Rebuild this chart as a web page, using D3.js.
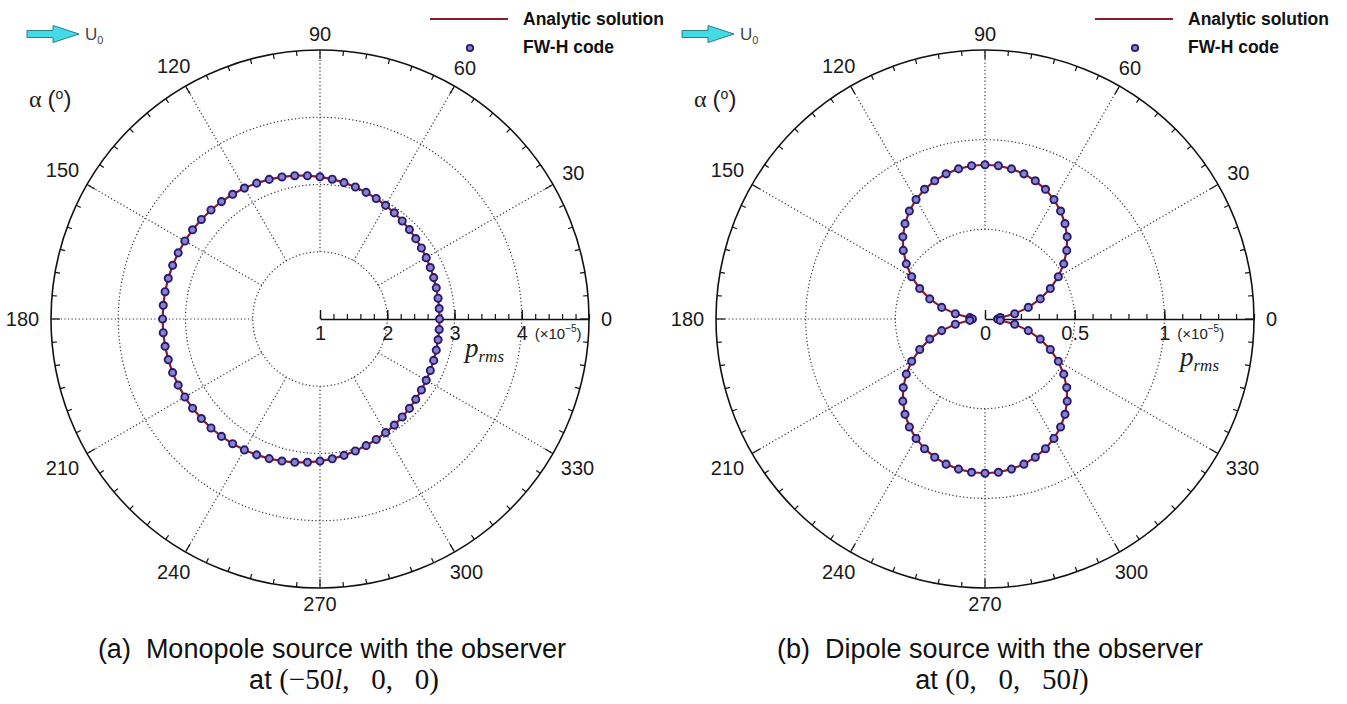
<!DOCTYPE html>
<html>
<head>
<meta charset="utf-8">
<script src="https://cdn.jsdelivr.net/npm/d3@7"></script>
<style>
  body { margin: 0; background: #fff; }
  svg { display: block; }
  text { white-space: pre; }
</style>
</head>
<body>
<svg id="fig" width="1347" height="704"></svg>
<script>
// Directivity of the radiated pressure, sampled every 5 degrees of observer angle alpha
const sampleAngles = d3.range(0, 360, 5);
const angleLabels = [0, 30, 60, 90, 120, 150, 180, 210, 240, 270, 300, 330];

// Monopole: p_rms (x 1e-5), alpha = 0, 5, ..., 355
const monopoleAnalytic = [
  2.778, 2.779, 2.783, 2.790, 2.799, 2.810, 2.824, 2.841, 2.859, 2.880, 2.902, 2.926,
  2.951, 2.977, 3.004, 3.032, 3.059, 3.087, 3.113, 3.139, 3.164, 3.187, 3.209, 3.229,
  3.248, 3.264, 3.279, 3.292, 3.303, 3.313, 3.320, 3.327, 3.332, 3.336, 3.339, 3.340,
  3.341, 3.340, 3.339, 3.336, 3.332, 3.327, 3.320, 3.313, 3.303, 3.292, 3.279, 3.264,
  3.248, 3.229, 3.209, 3.187, 3.164, 3.139, 3.113, 3.087, 3.059, 3.032, 3.004, 2.977,
  2.951, 2.926, 2.902, 2.880, 2.859, 2.841, 2.824, 2.810, 2.799, 2.790, 2.783, 2.779
];
const monopoleFWH = monopoleAnalytic;

// Dipole: p_rms (x 1e-5), alpha = 0, 5, ..., 355
const dipoleAnalytic = [
  0.070, 0.085, 0.168, 0.250, 0.328, 0.402, 0.472, 0.536, 0.595, 0.648, 0.694, 0.735,
  0.769, 0.798, 0.820, 0.838, 0.850, 0.858, 0.860, 0.858, 0.850, 0.838, 0.820, 0.798,
  0.769, 0.735, 0.694, 0.648, 0.595, 0.536, 0.472, 0.402, 0.328, 0.250, 0.168, 0.085,
  0.070, 0.085, 0.168, 0.250, 0.328, 0.402, 0.472, 0.536, 0.595, 0.648, 0.694, 0.735,
  0.769, 0.798, 0.820, 0.838, 0.850, 0.858, 0.860, 0.858, 0.850, 0.838, 0.820, 0.798,
  0.769, 0.735, 0.694, 0.648, 0.595, 0.536, 0.472, 0.402, 0.328, 0.250, 0.168, 0.085
];
const dipoleFWH = dipoleAnalytic;

// Radial axis ticks
const monoRadialDomain = [1, 5];
const monoMajorTicks = [1, 2, 3, 4];
const monoMinorTicks = d3.range(1, 5.001, 0.2);
const monoGrid = [2, 3, 4];
const dipoleRadialDomain = [0, 1.5];
const dipoleMajorTicks = [0, 0.5, 1];
const dipoleMinorTicks = d3.range(0, 1.501, 0.1);
const dipoleGrid = [0.5, 1];

const legendLabels = ["Analytic solution", "FW-H code"];
const captions = [
  { line1: "(a)  Monopole source with the observer", pre: "at ", math: [["(\u221250", false], ["l", true], [",   0,   0)", false]] },
  { line1: "(b)  Dipole source with the observer", pre: "at ", math: [["(0,   0,   50", false], ["l", true], [")", false]] }
];

const svg = d3.select("#fig");
svg.append("rect").attr("width", 1347).attr("height", 704).attr("fill", "#fff");

const R = 269;
const LINE_COLOR = "#8e1b25";
const MARK_STROKE = "#271a74";
const MARK_FILL = "#8c82c8";
const GRID_COLOR = "#333";
const toRad = a => (90 - a) * Math.PI / 180;   // math angle -> d3 radial angle

function drawPanel(p) {
  const g = svg.append("g").attr("transform", `translate(${p.cx},${p.cy})`);
  const r = d3.scaleLinear().domain(p.domain).range([0, R]);

  // dotted grid circles
  g.selectAll("circle.grid").data(p.grid).join("circle")
    .attr("class", "grid").attr("r", d => r(d))
    .attr("fill", "none").attr("stroke", GRID_COLOR)
    .attr("stroke-width", 1.2).attr("stroke-dasharray", "1.2,2.4");

  // dotted spokes from the innermost grid circle to the rim
  g.selectAll("line.spoke").data(angleLabels.filter(a => a !== 0)).join("line")
    .attr("class", "spoke")
    .attr("x1", a => d3.pointRadial(toRad(a), r(p.grid[0]))[0])
    .attr("y1", a => d3.pointRadial(toRad(a), r(p.grid[0]))[1])
    .attr("x2", a => d3.pointRadial(toRad(a), R)[0])
    .attr("y2", a => d3.pointRadial(toRad(a), R)[1])
    .attr("stroke", GRID_COLOR).attr("stroke-width", 1.2).attr("stroke-dasharray", "1.2,2.4");

  // outer rim
  g.append("circle").attr("r", R).attr("fill", "none").attr("stroke", "#111").attr("stroke-width", 1.6);

  // rim ticks every 5 degrees
  const rimTicks = d3.range(0, 360, 5);
  g.selectAll("line.rim").data(rimTicks).join("line")
    .attr("class", "rim")
    .attr("x1", a => d3.pointRadial(toRad(a), R)[0])
    .attr("y1", a => d3.pointRadial(toRad(a), R)[1])
    .attr("x2", a => d3.pointRadial(toRad(a), R - (a % 30 === 0 ? 9 : 5))[0])
    .attr("y2", a => d3.pointRadial(toRad(a), R - (a % 30 === 0 ? 9 : 5))[1])
    .attr("stroke", "#111").attr("stroke-width", 1.2);

  // angle labels
  g.selectAll("text.ang").data(angleLabels).join("text")
    .attr("class", "ang")
    .attr("font-family", "Liberation Sans, Arial, sans-serif").attr("font-size", 20)
    .attr("fill", "#1a1a1a").attr("text-anchor", "middle").attr("dominant-baseline", "central")
    .each(function (a) {
      const w = String(a).length * 11;
      const rad = a * Math.PI / 180;
      const rr = R + 12 + (w / 2) * Math.abs(Math.cos(rad)) + 4 * Math.abs(Math.sin(rad));
      const pt = d3.pointRadial(toRad(a), rr);
      d3.select(this).attr("x", pt[0]).attr("y", pt[1]);
    })
    .text(a => a);

  // radial axis (minor ticks, then major ticks with labels)
  const ax = g.append("g");
  ax.call(d3.axisBottom(r).tickValues(p.minor).tickSizeInner(-5).tickSizeOuter(0).tickFormat(""));
  ax.select(".domain").remove();
  ax.selectAll("line").attr("stroke", "#111").attr("stroke-width", 1.2);
  const axMajor = g.append("g");
  axMajor.call(d3.axisBottom(r).tickValues(p.major).tickSizeInner(-9).tickSizeOuter(0).tickPadding(7).tickFormat(p.fmt));
  axMajor.select(".domain").attr("stroke", "#111").attr("stroke-width", 1.6);
  axMajor.selectAll("line").attr("stroke", "#111").attr("stroke-width", 1.4);
  axMajor.selectAll("text").attr("font-family", "Liberation Sans, Arial, sans-serif")
    .attr("font-size", 20).attr("fill", "#1a1a1a");

  // scale factor note next to the last labelled tick
  const sf = g.append("text").attr("x", r(p.major[p.major.length - 1]) + 13).attr("y", 20)
    .attr("font-family", "Liberation Sans, Arial, sans-serif").attr("font-size", 15).attr("fill", "#222");
  sf.append("tspan").text("(\u00d710");
  sf.append("tspan").attr("font-size", 10).attr("dy", -7).text("\u22125");
  sf.append("tspan").attr("dy", 7).text(")");

  // p_rms axis title
  const pt = g.append("text").attr("x", p.pLabel[0]).attr("y", p.pLabel[1])
    .attr("font-family", "Liberation Serif, Times New Roman, serif").attr("font-style", "italic")
    .attr("font-size", 27).attr("fill", "#222");
  pt.append("tspan").text("p");
  pt.append("tspan").attr("font-size", 17).attr("dy", 5).text("rms");

  // analytic curve
  const pts = sampleAngles.map((a, i) => ({ a, v: p.analytic[i] }));
  const line = d3.lineRadial().angle(d => toRad(d.a)).radius(d => r(d.v)).curve(d3.curveLinearClosed);
  g.append("path").datum(pts).attr("d", line)
    .attr("fill", "none").attr("stroke", LINE_COLOR).attr("stroke-width", 2.2);

  // FW-H samples
  g.selectAll("circle.fwh").data(sampleAngles.map((a, i) => ({ a, v: p.fwh[i] }))).join("circle")
    .attr("class", "fwh")
    .attr("cx", d => d3.pointRadial(toRad(d.a), r(d.v))[0])
    .attr("cy", d => d3.pointRadial(toRad(d.a), r(d.v))[1])
    .attr("r", 3.6).attr("fill", MARK_FILL).attr("stroke", MARK_STROKE).attr("stroke-width", 1.9);

  // legend
  const lg = svg.append("g").attr("transform", `translate(${p.cx},0)`);
  lg.append("line").attr("x1", 110).attr("x2", 188).attr("y1", 19).attr("y2", 19)
    .attr("stroke", LINE_COLOR).attr("stroke-width", 2.2);
  lg.append("circle").attr("cx", 150).attr("cy", 48).attr("r", 3.2)
    .attr("fill", MARK_FILL).attr("stroke", MARK_STROKE).attr("stroke-width", 1.8);
  lg.selectAll("text.leg").data(legendLabels).join("text")
    .attr("class", "leg").attr("x", 203).attr("y", (d, i) => 25 + i * 28)
    .attr("font-family", "Liberation Sans, Arial, sans-serif").attr("font-weight", "bold")
    .attr("font-size", 17.5).attr("fill", "#111").text(d => d);

  // free-stream arrow U0
  const x0 = p.cx + p.arrowDx, y0 = 34;
  const arrow = d3.path();
  arrow.moveTo(x0, y0 - 3.5); arrow.lineTo(x0 + 26, y0 - 3.5); arrow.lineTo(x0 + 26, y0 - 8.5);
  arrow.lineTo(x0 + 52, y0); arrow.lineTo(x0 + 26, y0 + 8.5); arrow.lineTo(x0 + 26, y0 + 3.5);
  arrow.lineTo(x0, y0 + 3.5); arrow.closePath();
  svg.append("path").attr("d", arrow.toString()).attr("fill", "#45dbe6")
    .attr("stroke", "#2a7f88").attr("stroke-width", 1);
  const ut = svg.append("text").attr("x", x0 + 58).attr("y", y0 + 6)
    .attr("font-family", "Liberation Sans, Arial, sans-serif").attr("font-size", 17).attr("fill", "#444");
  ut.append("tspan").text("U");
  ut.append("tspan").attr("font-size", 11).attr("dy", 4).text("0");

  // angle title
  const at = svg.append("text").attr("x", p.cx - 291).attr("y", 107)
    .attr("font-size", 24).attr("fill", "#222");
  at.append("tspan").attr("font-family", "Liberation Serif, Times New Roman, serif").text("\u03b1 ");
  at.append("tspan").attr("font-family", "Liberation Sans, Arial, sans-serif").text("(");
  at.append("tspan").attr("font-family", "Liberation Sans, Arial, sans-serif").attr("font-size", 14).attr("dy", -8).text("o");
  at.append("tspan").attr("font-family", "Liberation Sans, Arial, sans-serif").attr("dy", 8).text(")");

  // caption
  const cap = p.caption;
  svg.append("text").attr("x", p.capX).attr("y", 658).attr("text-anchor", "middle")
    .attr("font-family", "Liberation Sans, Arial, sans-serif").attr("font-size", 27).attr("fill", "#111")
    .text(cap.line1);
  const c2 = svg.append("text").attr("x", p.capX + 12).attr("y", 689).attr("text-anchor", "middle")
    .attr("font-size", 27).attr("fill", "#111");
  c2.append("tspan").attr("font-family", "Liberation Sans, Arial, sans-serif").text(cap.pre);
  cap.math.forEach(([s, it]) => {
    c2.append("tspan").attr("font-family", "Liberation Serif, Times New Roman, serif")
      .attr("font-size", 29).attr("font-style", it ? "italic" : "normal").text(s);
  });
}

drawPanel({
  cx: 320, cy: 319, domain: monoRadialDomain, major: monoMajorTicks, minor: monoMinorTicks,
  grid: monoGrid, fmt: d3.format("d"), analytic: monopoleAnalytic, fwh: monopoleFWH,
  pLabel: [145, 38], arrowDx: -293, caption: captions[0], capX: 332
});
drawPanel({
  cx: 985, cy: 319, domain: dipoleRadialDomain, major: dipoleMajorTicks, minor: dipoleMinorTicks,
  grid: dipoleGrid, fmt: d => (d === 0 ? "0" : d3.format("~g")(d)), analytic: dipoleAnalytic, fwh: dipoleFWH,
  pLabel: [195, 47], arrowDx: -303, caption: captions[1], capX: 990
});
</script>
</body>
</html>
